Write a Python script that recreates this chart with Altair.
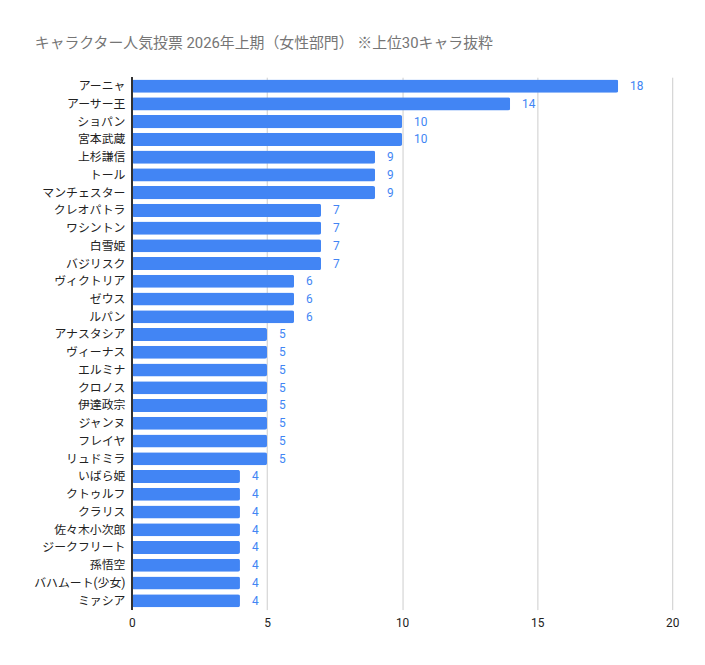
import altair as alt
import pandas as pd

names = ["アーニャ", "アーサー王", "ショパン", "宮本武蔵", "上杉謙信", "トール", "マンチェスター",
         "クレオパトラ", "ワシントン", "白雪姫", "バジリスク", "ヴィクトリア", "ゼウス", "ルパン",
         "アナスタシア", "ヴィーナス", "エルミナ", "クロノス", "伊達政宗", "ジャンヌ", "フレイヤ",
         "リュドミラ", "いばら姫", "クトゥルフ", "クラリス", "佐々木小次郎", "ジークフリート", "孫悟空",
         "バハムート(少女)", "ミァシア"]
votes = [18, 14, 10, 10, 9, 9, 9, 7, 7, 7, 7, 6, 6, 6, 5, 5, 5, 5, 5, 5, 5, 5,
         4, 4, 4, 4, 4, 4, 4, 4]
x_ticks = [0, 5, 10, 15, 20]
title_text = "キャラクター人気投票 2026年上期（女性部門） ※上位30キャラ抜粋"

df = pd.DataFrame({"name": names, "votes": votes})

FONT = "Roboto, 'Noto Sans CJK JP', sans-serif"
BLUE = "#4285F4"

y_enc = alt.Y("name:N", sort=names, title=None,
              scale=alt.Scale(paddingInner=0.26, paddingOuter=0.13),
              axis=alt.Axis(labelFont=FONT, labelFontSize=12, labelColor="#222222",
                            ticks=False, labelPadding=7, domain=False, grid=False))
x_enc = alt.X("votes:Q", title=None,
              scale=alt.Scale(domain=[0, 20], nice=False),
              axis=alt.Axis(values=x_ticks, labelFont=FONT, labelFontSize=12,
                            labelColor="#222222", ticks=False, domain=False,
                            gridColor="#cccccc", labelPadding=8, labelFlush=False))

bars = alt.Chart(df).mark_bar(color=BLUE, cornerRadius=2).encode(x=x_enc, y=y_enc)
labels = alt.Chart(df).mark_text(align="left", dx=12, font=FONT, fontSize=12,
                                 color=BLUE).encode(x="votes:Q", y=alt.Y("name:N", sort=names),
                                                    text="votes:Q")
zero = alt.Chart(df).mark_rule(color="#333333", strokeWidth=1).encode(
    x=alt.datum(0), y=alt.value(0), y2=alt.value(537))

chart = alt.layer(bars, labels, zero).properties(
    width=545, height=537,
    autosize=alt.AutoSizeParams(type="none"),
    padding={"left": 125, "top": 67, "right": 25, "bottom": 45},
    title=alt.TitleParams(title_text, anchor="start", frame="group", dx=-98, offset=26,
                          font=FONT, fontSize=15, fontWeight="normal", color="#757575"),
).configure_view(stroke=None)

chart.save("out.html", embed_options={"renderer": "svg", "actions": False})
